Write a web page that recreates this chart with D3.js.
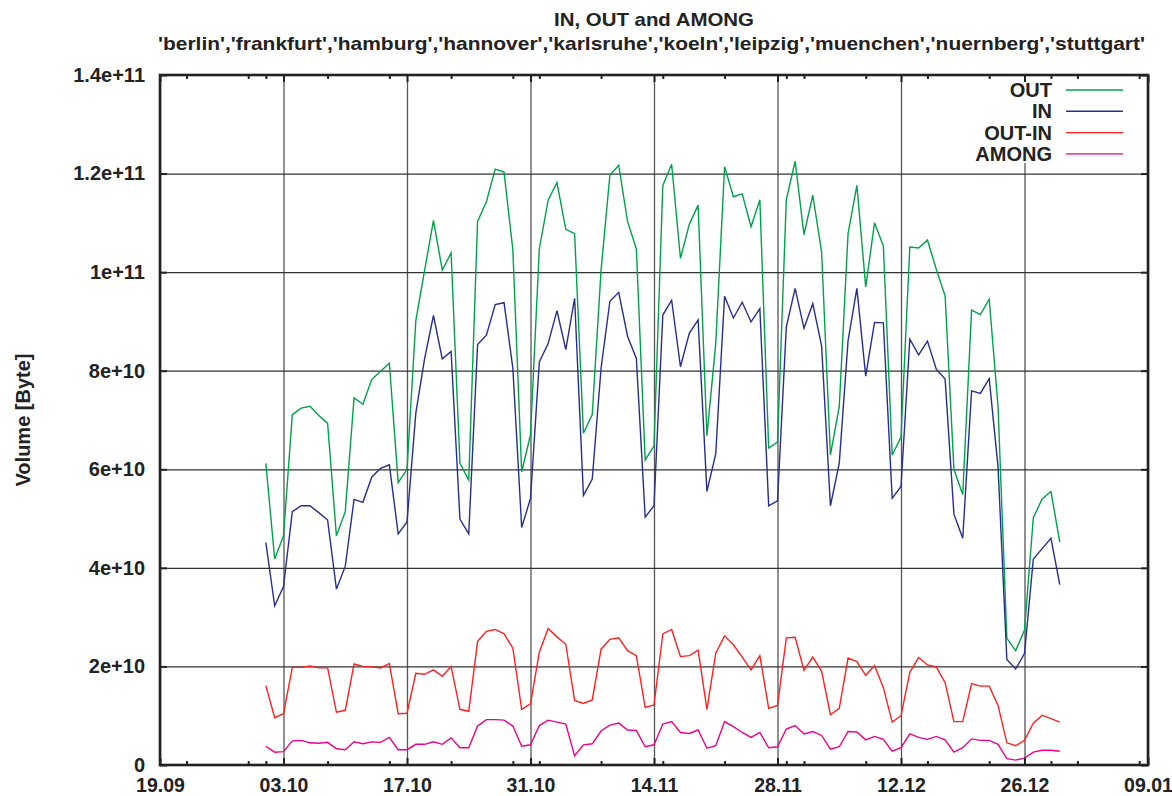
<!DOCTYPE html>
<head>
  <style>
    body { margin: 0; background: #fff; }
    text { font-family: "Liberation Sans", Arial, sans-serif; font-weight: bold; fill: #222; }
    .axis text { font-size: 20px; }
  </style>
<title>IN, OUT and AMONG</title>
</head>

<body>
  <script src="https://cdn.jsdelivr.net/npm/d3@7"></script>

  <script>
    // daily volume per series, units of 1e10 byte, starting 01.10
    var firstDay = "2010-10-01";
    var out = [6.12,4.18,4.65,7.11,7.24,7.28,7.09,6.93,4.65,5.14,
      7.45,7.32,7.82,7.99,8.15,5.73,6.00,9.01,10.04,11.05,
      10.04,10.39,6.12,5.78,11.03,11.43,12.09,12.03,10.45,5.95,
      6.70,10.47,11.46,11.82,10.87,10.78,6.73,7.11,10.04,11.97,
      12.17,11.03,10.47,6.19,6.47,11.76,12.19,10.28,10.97,11.36,
      6.68,8.55,12.14,11.53,11.59,10.92,11.47,6.43,6.55,11.47,
      12.25,10.76,11.56,10.41,6.29,7.27,10.78,11.76,9.70,11.00,
      10.53,6.29,6.65,10.51,10.49,10.65,10.06,9.52,6.00,5.49,
      9.23,9.14,9.45,7.27,2.57,2.32,2.74,5.02,5.40,5.55,
      4.52];
    var inn = [4.51,3.23,3.62,5.14,5.26,5.26,5.12,4.97,3.57,4.03,
      5.39,5.33,5.84,6.02,6.09,4.69,4.93,7.14,8.25,9.12,
      8.24,8.39,4.99,4.69,8.53,8.72,9.34,9.38,8.05,4.82,
      5.41,8.18,8.55,9.22,8.43,9.47,5.47,5.80,8.05,9.41,
      9.59,8.70,8.25,5.03,5.26,9.13,9.43,8.08,8.76,9.03,
      5.55,6.31,9.51,9.07,9.39,8.99,9.26,5.26,5.36,8.89,
      9.67,8.86,9.36,8.50,5.26,6.12,8.61,9.67,7.89,8.98,
      8.97,5.41,5.65,8.64,8.32,8.60,8.03,7.83,5.09,4.60,
      7.59,7.54,7.84,6.05,2.14,1.95,2.26,4.18,4.39,4.60,
      3.66];
    var outIn = [1.61,0.96,1.04,1.98,1.98,2.01,1.97,1.97,1.07,1.11,
      2.05,2.00,1.99,1.97,2.06,1.04,1.05,1.86,1.84,1.93,
      1.80,2.00,1.13,1.09,2.51,2.71,2.75,2.66,2.37,1.13,
      1.24,2.29,2.77,2.60,2.45,1.31,1.25,1.32,2.35,2.55,
      2.58,2.32,2.22,1.17,1.22,2.66,2.75,2.20,2.22,2.33,
      1.13,2.27,2.62,2.44,2.19,1.93,2.22,1.15,1.21,2.58,
      2.59,1.92,2.19,1.90,1.02,1.15,2.17,2.10,1.82,2.02,
      1.57,0.87,1.00,1.88,2.18,2.03,1.99,1.67,0.88,0.88,
      1.65,1.60,1.60,1.21,0.45,0.39,0.50,0.85,1.01,0.94,
      0.87];
    var among = [0.38,0.26,0.27,0.49,0.50,0.45,0.44,0.46,0.33,0.31,
      0.47,0.43,0.47,0.46,0.56,0.31,0.31,0.42,0.42,0.47,
      0.42,0.55,0.35,0.35,0.79,0.92,0.92,0.91,0.79,0.38,
      0.41,0.80,0.91,0.87,0.83,0.19,0.41,0.43,0.69,0.81,
      0.85,0.71,0.70,0.37,0.41,0.83,0.88,0.66,0.64,0.71,
      0.34,0.39,0.88,0.78,0.66,0.56,0.66,0.35,0.37,0.73,
      0.80,0.63,0.68,0.60,0.32,0.37,0.68,0.67,0.51,0.58,
      0.52,0.28,0.35,0.63,0.56,0.52,0.58,0.51,0.26,0.35,
      0.53,0.50,0.50,0.42,0.13,0.10,0.14,0.26,0.30,0.30,
      0.28];

    var seriesNames = ["OUT", "IN", "OUT-IN", "AMONG"];
    var seriesColors = ["#00a14b", "#262f8f", "#ff2020", "#ec008c"];

    // x ticks every 14 days, y ticks every 2e10
    var xTickDates = ["2010-09-19","2010-10-03","2010-10-17","2010-10-31","2010-11-14",
      "2010-11-28","2010-12-12","2010-12-26","2011-01-09"];
    var yTicks = [0, 2e10, 4e10, 6e10, 8e10, 1e11, 1.2e11, 1.4e11];
    var yTickLabels = ["0","2e+10","4e+10","6e+10","8e+10","1e+11","1.2e+11","1.4e+11"];

    var margin = {top: 75, right: 24, bottom: 31, left: 160};
    var width = 1172 - margin.left - margin.right;
    var height = 796 - margin.top - margin.bottom;

    var parse = d3.utcParse("%Y-%m-%d");
    var xTicks = xTickDates.map(parse);
    var minorTicks = d3.utcDay.every(7).range(xTicks[0], d3.utcDay.offset(xTicks[xTicks.length - 1], 1));
    var days = d3.utcDay.range(parse(firstDay), d3.utcDay.offset(parse(firstDay), out.length));

    var x = d3.scaleUtc().domain([xTicks[0], xTicks[xTicks.length - 1]]).range([0, width]);
    var y = d3.scaleLinear().domain([0, 1.4e11]).range([height, 0]);

    var svg = d3.select("body").append("svg")
      .attr("width", 1172)
      .attr("height", 796)
      .append("g")
      .attr("transform", "translate(" + margin.left + "," + margin.top + ")");

    // grid
    svg.append("g")
      .attr("class", "grid")
      .attr("transform", "translate(0," + height + ")")
      .call(d3.axisBottom(x).tickValues(xTicks).tickSize(-height).tickFormat(""))
      .call(g => g.select(".domain").remove())
      .selectAll("line").attr("stroke", "#555").attr("stroke-width", 1.3);
    svg.append("g")
      .attr("class", "grid")
      .call(d3.axisLeft(y).tickValues(yTicks).tickSize(-width).tickFormat(""))
      .call(g => g.select(".domain").remove())
      .selectAll("line").attr("stroke", "#333").attr("stroke-width", 1.2);

    // legend background hides the grid under it
    svg.append("rect")
      .attr("x", x(parse("2010-12-22")))
      .attr("y", 7)
      .attr("width", width - x(parse("2010-12-22")) - 2)
      .attr("height", 81)
      .attr("fill", "#fff");

    // series lines
    var line = d3.line()
      .x(function(d, i) { return x(days[i]); })
      .y(function(d) { return y(d * 1e10); });

    var allSeries = [out, inn, outIn, among];
    svg.append("g").attr("id", "lines")
      .selectAll("path")
      .data(allSeries)
      .enter().append("path")
      .attr("d", line)
      .attr("fill", "none")
      .attr("stroke", function(d, i) { return seriesColors[i]; })
      .attr("stroke-width", 1.4)
      .attr("stroke-linejoin", "miter");

    // axes with inward ticks
    function styleAxis(g) {
      g.selectAll("line").attr("stroke", "#222").attr("stroke-width", 2);
      g.select(".domain").remove();
    }
    svg.append("g").attr("class", "axis")
      .attr("transform", "translate(0," + height + ")")
      .call(d3.axisBottom(x).tickValues(xTicks).tickSizeInner(-7).tickSizeOuter(0)
        .tickPadding(13).tickFormat(d3.utcFormat("%d.%m")))
      .call(styleAxis)
      .selectAll("text").style("font-size", "19.5px");
    svg.append("g").attr("class", "axis")
      .attr("transform", "translate(0," + height + ")")
      .call(d3.axisBottom(x).tickValues(minorTicks).tickSizeInner(-4).tickSizeOuter(0).tickFormat(""))
      .call(styleAxis);
    svg.append("g").attr("class", "axis")
      .call(d3.axisTop(x).tickValues(xTicks).tickSizeInner(-7).tickSizeOuter(0).tickFormat(""))
      .call(styleAxis);
    svg.append("g").attr("class", "axis")
      .call(d3.axisTop(x).tickValues(minorTicks).tickSizeInner(-4).tickSizeOuter(0).tickFormat(""))
      .call(styleAxis);
    svg.append("g").attr("class", "axis")
      .call(d3.axisLeft(y).tickValues(yTicks).tickSizeInner(-7).tickSizeOuter(0)
        .tickPadding(15).tickFormat(function(d, i) { return yTickLabels[i]; }))
      .call(styleAxis);
    svg.append("g").attr("class", "axis")
      .attr("transform", "translate(" + width + ",0)")
      .call(d3.axisRight(y).tickValues(yTicks).tickSizeInner(-7).tickSizeOuter(0).tickFormat(""))
      .call(styleAxis);

    // frame
    svg.append("rect")
      .attr("width", width)
      .attr("height", height)
      .attr("fill", "none")
      .attr("stroke", "#222")
      .attr("stroke-width", 2.6);

    // legend
    var legend = svg.append("g").attr("id", "legend")
      .selectAll("g")
      .data(seriesNames)
      .enter().append("g")
      .attr("transform", function(d, i) { return "translate(0," + (15 + i * 21.3) + ")"; });
    legend.append("text")
      .attr("x", 892)
      .attr("dy", "0.35em")
      .style("text-anchor", "end")
      .style("font-size", "20px")
      .text(function(d) { return d; });
    legend.append("line")
      .attr("x1", 906)
      .attr("x2", 963)
      .attr("stroke", function(d, i) { return seriesColors[i]; })
      .attr("stroke-width", 1.4);

    // titles
    svg.append("text")
      .attr("x", width / 2)
      .attr("y", -49)
      .style("text-anchor", "middle")
      .style("font-size", "19px")
      .attr("textLength", 200)
      .attr("lengthAdjust", "spacingAndGlyphs")
      .text("IN, OUT and AMONG");
    svg.append("text")
      .attr("x", width / 2 - 2.5)
      .attr("y", -25)
      .style("text-anchor", "middle")
      .style("font-size", "19px")
      .attr("textLength", 987)
      .attr("lengthAdjust", "spacingAndGlyphs")
      .text("'berlin','frankfurt','hamburg','hannover','karlsruhe','koeln','leipzig','muenchen','nuernberg','stuttgart'");

    svg.append("text")
      .attr("transform", "rotate(-90)")
      .attr("x", -height / 2)
      .attr("y", -margin.left + 30)
      .style("text-anchor", "middle")
      .style("font-size", "20px")
      .text("Volume [Byte]");
  </script>
</body>
